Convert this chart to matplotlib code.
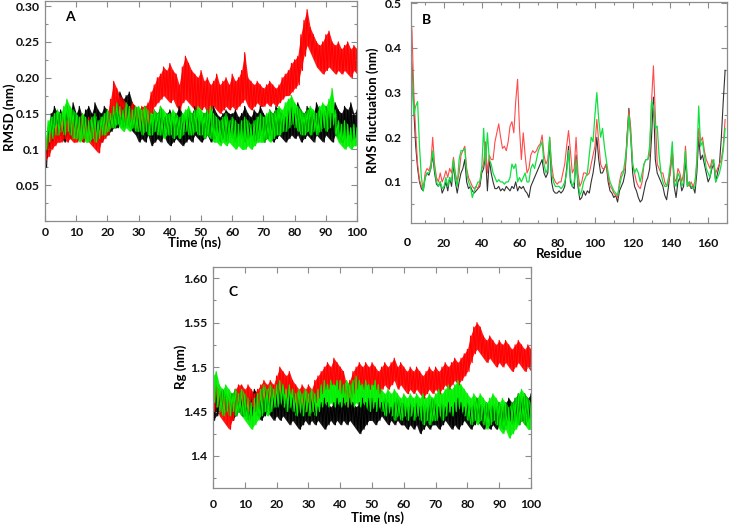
import numpy as np
import matplotlib
matplotlib.use("Agg")
import matplotlib.pyplot as plt
from matplotlib.ticker import FixedLocator, FixedFormatter, MultipleLocator

plt.rcParams['font.family'] = ['Lato', 'DejaVu Sans']
plt.rcParams['font.weight'] = 'bold'

# ---------------- Panel A : RMSD (nm), peak / trough per ns ----------------
rmsd_black_hi = [0.08, 0.13, 0.15, 0.16, 0.15, 0.155, 0.14, 0.16, 0.15, 0.165,
                 0.15, 0.16, 0.145, 0.155, 0.16, 0.15, 0.165, 0.155, 0.15, 0.16,
                 0.155, 0.15, 0.16, 0.165, 0.18, 0.17, 0.175, 0.18, 0.165, 0.16,
                 0.155, 0.15, 0.16, 0.15, 0.145, 0.155, 0.15, 0.16, 0.145, 0.15,
                 0.155, 0.145, 0.15, 0.16, 0.15, 0.145, 0.155, 0.15, 0.16, 0.15,
                 0.145, 0.15, 0.155, 0.145, 0.16, 0.15, 0.145, 0.15, 0.155, 0.15,
                 0.15, 0.155, 0.145, 0.15, 0.16, 0.15, 0.145, 0.155, 0.15, 0.16,
                 0.15, 0.145, 0.155, 0.15, 0.16, 0.155, 0.15, 0.145, 0.155, 0.16,
                 0.15, 0.165, 0.155, 0.15, 0.16, 0.155, 0.15, 0.165, 0.155, 0.15,
                 0.16, 0.155, 0.15, 0.165, 0.155, 0.15, 0.16, 0.155, 0.165, 0.15,
                 0.155]
rmsd_black_lo = [0.075, 0.10, 0.11, 0.12, 0.115, 0.12, 0.11, 0.12, 0.115, 0.12,
                 0.115, 0.12, 0.11, 0.12, 0.115, 0.11, 0.12, 0.115, 0.11, 0.12,
                 0.12, 0.125, 0.13, 0.13, 0.135, 0.13, 0.135, 0.13, 0.125, 0.12,
                 0.11, 0.115, 0.11, 0.12, 0.105, 0.11, 0.115, 0.11, 0.12, 0.11,
                 0.105, 0.11, 0.115, 0.11, 0.105, 0.11, 0.115, 0.11, 0.12, 0.115,
                 0.11, 0.115, 0.12, 0.11, 0.115, 0.12, 0.11, 0.115, 0.11, 0.12,
                 0.115, 0.11, 0.12, 0.115, 0.11, 0.115, 0.12, 0.11, 0.115, 0.12,
                 0.11, 0.115, 0.12, 0.11, 0.115, 0.12, 0.115, 0.11, 0.115, 0.12,
                 0.115, 0.12, 0.11, 0.115, 0.12, 0.115, 0.11, 0.12, 0.115, 0.11,
                 0.12, 0.115, 0.11, 0.12, 0.115, 0.11, 0.115, 0.12, 0.11, 0.115,
                 0.12]
rmsd_red_hi = [0.10, 0.12, 0.125, 0.13, 0.135, 0.14, 0.145, 0.14, 0.15, 0.145,
               0.14, 0.145, 0.15, 0.14, 0.145, 0.14, 0.135, 0.13, 0.14, 0.145,
               0.15, 0.17, 0.195, 0.185, 0.175, 0.17, 0.165, 0.16, 0.165, 0.16,
               0.155, 0.16, 0.16, 0.165, 0.18, 0.19, 0.20, 0.205, 0.215, 0.21,
               0.22, 0.21, 0.205, 0.19, 0.215, 0.23, 0.22, 0.21, 0.205, 0.20,
               0.21, 0.195, 0.20, 0.19, 0.195, 0.205, 0.19, 0.195, 0.20, 0.19,
               0.205, 0.195, 0.20, 0.21, 0.235, 0.20, 0.195, 0.19, 0.195, 0.19,
               0.185, 0.19, 0.195, 0.19, 0.185, 0.19, 0.20, 0.205, 0.21, 0.22,
               0.225, 0.23, 0.26, 0.28, 0.295, 0.27, 0.26, 0.25, 0.245, 0.25,
               0.26, 0.265, 0.25, 0.245, 0.25, 0.24, 0.245, 0.25, 0.24, 0.245,
               0.24]
rmsd_red_lo = [0.085, 0.09, 0.10, 0.105, 0.11, 0.11, 0.115, 0.11, 0.115, 0.11,
               0.11, 0.115, 0.11, 0.115, 0.11, 0.105, 0.10, 0.095, 0.11, 0.115,
               0.12, 0.13, 0.15, 0.15, 0.145, 0.14, 0.135, 0.14, 0.135, 0.13,
               0.13, 0.125, 0.13, 0.135, 0.15, 0.16, 0.165, 0.17, 0.175, 0.17,
               0.165, 0.17, 0.16, 0.155, 0.165, 0.17, 0.165, 0.16, 0.155, 0.16,
               0.155, 0.16, 0.15, 0.155, 0.16, 0.155, 0.15, 0.155, 0.16, 0.155,
               0.16, 0.155, 0.16, 0.165, 0.17, 0.16, 0.155, 0.16, 0.165, 0.16,
               0.16, 0.165, 0.16, 0.165, 0.16, 0.165, 0.17, 0.175, 0.175, 0.18,
               0.185, 0.19, 0.21, 0.23, 0.245, 0.235, 0.225, 0.215, 0.21, 0.205,
               0.21, 0.215, 0.21, 0.205, 0.21, 0.205, 0.21, 0.205, 0.20, 0.21,
               0.205]
rmsd_green_hi = [0.11, 0.14, 0.145, 0.15, 0.155, 0.15, 0.16, 0.17, 0.16, 0.155,
                 0.15, 0.145, 0.15, 0.145, 0.14, 0.145, 0.15, 0.14, 0.145, 0.15,
                 0.155, 0.15, 0.16, 0.165, 0.16, 0.155, 0.165, 0.16, 0.155, 0.16,
                 0.16, 0.155, 0.16, 0.155, 0.15, 0.155, 0.15, 0.16, 0.155, 0.15,
                 0.15, 0.155, 0.15, 0.145, 0.15, 0.155, 0.16, 0.15, 0.155, 0.16,
                 0.155, 0.15, 0.155, 0.16, 0.15, 0.145, 0.14, 0.145, 0.15, 0.14,
                 0.145, 0.14, 0.135, 0.14, 0.145, 0.14, 0.135, 0.14, 0.145, 0.15,
                 0.145, 0.15, 0.155, 0.15, 0.155, 0.16, 0.155, 0.165, 0.17, 0.175,
                 0.165, 0.16, 0.155, 0.15, 0.155, 0.16, 0.155, 0.15, 0.16, 0.165,
                 0.16, 0.17, 0.185, 0.155, 0.14, 0.135, 0.14, 0.135, 0.13, 0.135,
                 0.13]
rmsd_green_lo = [0.10, 0.11, 0.115, 0.12, 0.12, 0.125, 0.12, 0.125, 0.12, 0.115,
                 0.115, 0.11, 0.115, 0.11, 0.11, 0.115, 0.11, 0.115, 0.12, 0.12,
                 0.125, 0.13, 0.13, 0.135, 0.13, 0.125, 0.13, 0.125, 0.13, 0.125,
                 0.125, 0.12, 0.125, 0.12, 0.12, 0.125, 0.12, 0.12, 0.115, 0.12,
                 0.12, 0.115, 0.12, 0.115, 0.12, 0.125, 0.12, 0.12, 0.125, 0.12,
                 0.12, 0.115, 0.12, 0.115, 0.11, 0.11, 0.105, 0.11, 0.105, 0.11,
                 0.105, 0.10, 0.105, 0.10, 0.10, 0.105, 0.10, 0.105, 0.11, 0.11,
                 0.11, 0.115, 0.11, 0.115, 0.12, 0.12, 0.125, 0.125, 0.13, 0.135,
                 0.13, 0.125, 0.12, 0.12, 0.125, 0.12, 0.125, 0.12, 0.125, 0.13,
                 0.125, 0.13, 0.135, 0.12, 0.11, 0.105, 0.10, 0.105, 0.10, 0.105,
                 0.105]

# ---------------- Panel B : RMSF (nm), residues 2..169 ----------------
residues = list(range(2, 170))
rmsf_black = [0.42, 0.36, 0.26, 0.18, 0.13, 0.10, 0.085, 0.08, 0.11, 0.12,
              0.115, 0.13, 0.16, 0.12, 0.095, 0.09, 0.10, 0.075, 0.085, 0.10,
              0.08, 0.11, 0.09, 0.14, 0.10, 0.075, 0.10, 0.12, 0.13, 0.15,
              0.10, 0.085, 0.09, 0.08, 0.075, 0.08, 0.085, 0.09, 0.12, 0.13,
              0.16, 0.08, 0.15, 0.12, 0.10, 0.085, 0.085, 0.09, 0.08, 0.085,
              0.08, 0.09, 0.085, 0.08, 0.09, 0.085, 0.10, 0.08, 0.09, 0.085,
              0.09, 0.08, 0.075, 0.065, 0.09, 0.10, 0.11, 0.12, 0.13, 0.14,
              0.15, 0.12, 0.11, 0.12, 0.19, 0.10, 0.08, 0.075, 0.075, 0.08,
              0.075, 0.08, 0.09, 0.13, 0.18, 0.10, 0.09, 0.085, 0.16, 0.09,
              0.06, 0.065, 0.08, 0.07, 0.08, 0.075, 0.10, 0.12, 0.15, 0.20,
              0.15, 0.12, 0.12, 0.13, 0.14, 0.10, 0.08, 0.075, 0.065, 0.07,
              0.055, 0.08, 0.09, 0.10, 0.12, 0.20, 0.265, 0.20, 0.12, 0.09,
              0.08, 0.065, 0.055, 0.06, 0.08, 0.10, 0.11, 0.13, 0.20, 0.29,
              0.15, 0.12, 0.11, 0.10, 0.09, 0.07, 0.06, 0.09, 0.13, 0.17,
              0.09, 0.065, 0.10, 0.11, 0.08, 0.09, 0.15, 0.09, 0.10, 0.085,
              0.09, 0.075, 0.12, 0.20, 0.15, 0.16, 0.14, 0.12, 0.10, 0.11,
              0.13, 0.14, 0.10, 0.12, 0.14, 0.20, 0.28, 0.35]
rmsf_red = [0.48, 0.44, 0.30, 0.21, 0.14, 0.105, 0.09, 0.085, 0.12, 0.13,
            0.125, 0.14, 0.20, 0.14, 0.11, 0.10, 0.12, 0.10, 0.11, 0.125,
            0.11, 0.13, 0.12, 0.155, 0.12, 0.10, 0.12, 0.16, 0.17, 0.18,
            0.13, 0.11, 0.10, 0.09, 0.085, 0.09, 0.085, 0.10, 0.13, 0.14,
            0.19, 0.12, 0.16, 0.15, 0.15, 0.19, 0.21, 0.23, 0.20, 0.175,
            0.18, 0.17, 0.19, 0.225, 0.235, 0.21, 0.28, 0.33, 0.22, 0.15,
            0.21, 0.16, 0.12, 0.13, 0.16, 0.17, 0.165, 0.17, 0.18, 0.185,
            0.205, 0.16, 0.14, 0.15, 0.20, 0.14, 0.11, 0.10, 0.095, 0.10,
            0.10, 0.12, 0.14, 0.18, 0.215, 0.17, 0.12, 0.13, 0.20, 0.12,
            0.09, 0.10, 0.12, 0.12, 0.115, 0.12, 0.14, 0.16, 0.18, 0.24,
            0.19, 0.14, 0.13, 0.13, 0.14, 0.11, 0.09, 0.085, 0.075, 0.07,
            0.065, 0.10, 0.12, 0.125, 0.13, 0.20, 0.26, 0.22, 0.14, 0.12,
            0.10, 0.09, 0.085, 0.10, 0.14, 0.15, 0.15, 0.16, 0.28, 0.36,
            0.25, 0.14, 0.13, 0.12, 0.12, 0.10, 0.09, 0.10, 0.12, 0.17,
            0.11, 0.10, 0.13, 0.12, 0.10, 0.12, 0.18, 0.10, 0.09, 0.10,
            0.09, 0.10, 0.14, 0.22, 0.19, 0.20, 0.17, 0.15, 0.14, 0.13,
            0.15, 0.14, 0.12, 0.13, 0.14, 0.15, 0.18, 0.24]
rmsf_green = [0.40, 0.34, 0.25, 0.27, 0.28, 0.18, 0.11, 0.08, 0.11, 0.12,
              0.12, 0.13, 0.17, 0.13, 0.10, 0.09, 0.10, 0.085, 0.09, 0.11,
              0.09, 0.11, 0.10, 0.15, 0.11, 0.09, 0.15, 0.17, 0.17, 0.175,
              0.12, 0.10, 0.09, 0.065, 0.08, 0.09, 0.10, 0.10, 0.13, 0.22,
              0.14, 0.21, 0.15, 0.14, 0.12, 0.11, 0.10, 0.105, 0.10, 0.10,
              0.095, 0.10, 0.10, 0.11, 0.14, 0.13, 0.14, 0.10, 0.11, 0.10,
              0.11, 0.12, 0.10, 0.10, 0.13, 0.14, 0.13, 0.15, 0.17, 0.18,
              0.19, 0.14, 0.12, 0.13, 0.20, 0.12, 0.10, 0.09, 0.09, 0.09,
              0.085, 0.09, 0.10, 0.12, 0.17, 0.11, 0.09, 0.10, 0.15, 0.10,
              0.07, 0.08, 0.10, 0.11, 0.12, 0.16, 0.20, 0.19, 0.25, 0.30,
              0.24, 0.20, 0.22, 0.18, 0.15, 0.12, 0.10, 0.09, 0.08, 0.075,
              0.07, 0.09, 0.11, 0.12, 0.15, 0.18, 0.25, 0.20, 0.14, 0.12,
              0.13, 0.12, 0.10, 0.12, 0.14, 0.15, 0.15, 0.18, 0.28, 0.27,
              0.22, 0.225, 0.16, 0.12, 0.10, 0.09, 0.09, 0.11, 0.14, 0.19,
              0.10, 0.09, 0.12, 0.11, 0.09, 0.10, 0.17, 0.09, 0.10, 0.09,
              0.085, 0.09, 0.15, 0.27, 0.18, 0.19, 0.16, 0.13, 0.12, 0.11,
              0.14, 0.15, 0.10, 0.11, 0.12, 0.14, 0.17, 0.22]

# ---------------- Panel C : Rg (nm), peak / trough per ns ----------------
rg_black_hi = [1.48, 1.475, 1.47, 1.475, 1.47, 1.465, 1.47, 1.475, 1.47, 1.465,
               1.47, 1.465, 1.47, 1.475, 1.47, 1.465, 1.47, 1.475, 1.47, 1.465,
               1.47, 1.475, 1.47, 1.465, 1.47, 1.465, 1.46, 1.465, 1.46, 1.465,
               1.46, 1.465, 1.46, 1.455, 1.46, 1.465, 1.46, 1.455, 1.46, 1.465,
               1.46, 1.465, 1.46, 1.465, 1.46, 1.455, 1.46, 1.465, 1.46, 1.465,
               1.465, 1.46, 1.465, 1.46, 1.465, 1.46, 1.455, 1.46, 1.465, 1.46,
               1.46, 1.455, 1.46, 1.455, 1.46, 1.455, 1.46, 1.455, 1.46, 1.465,
               1.46, 1.455, 1.46, 1.455, 1.46, 1.455, 1.46, 1.465, 1.46, 1.455,
               1.46, 1.455, 1.46, 1.465, 1.46, 1.455, 1.46, 1.455, 1.46, 1.455,
               1.46, 1.455, 1.46, 1.465, 1.46, 1.465, 1.47, 1.465, 1.47, 1.465,
               1.47]
rg_black_lo = [1.44, 1.445, 1.45, 1.445, 1.45, 1.445, 1.44, 1.445, 1.45, 1.445,
               1.445, 1.44, 1.445, 1.45, 1.445, 1.44, 1.445, 1.45, 1.445, 1.44,
               1.445, 1.44, 1.445, 1.44, 1.435, 1.44, 1.435, 1.43, 1.435, 1.44,
               1.435, 1.44, 1.435, 1.44, 1.435, 1.43, 1.435, 1.44, 1.435, 1.44,
               1.435, 1.44, 1.435, 1.44, 1.435, 1.43, 1.425, 1.43, 1.435, 1.44,
               1.44, 1.435, 1.44, 1.445, 1.44, 1.435, 1.44, 1.435, 1.44, 1.435,
               1.435, 1.43, 1.435, 1.43, 1.435, 1.425, 1.43, 1.435, 1.43, 1.435,
               1.435, 1.43, 1.435, 1.44, 1.435, 1.43, 1.435, 1.43, 1.435, 1.44,
               1.435, 1.43, 1.435, 1.44, 1.435, 1.43, 1.435, 1.43, 1.435, 1.43,
               1.435, 1.43, 1.435, 1.44, 1.435, 1.44, 1.435, 1.44, 1.435, 1.44,
               1.445]
rg_red_hi = [1.475, 1.48, 1.475, 1.47, 1.465, 1.47, 1.465, 1.475, 1.48, 1.48,
             1.475, 1.48, 1.475, 1.47, 1.475, 1.48, 1.485, 1.48, 1.485, 1.48,
             1.49, 1.50, 1.495, 1.49, 1.495, 1.485, 1.48, 1.475, 1.48, 1.475,
             1.48, 1.475, 1.485, 1.49, 1.495, 1.50, 1.505, 1.50, 1.51, 1.505,
             1.50, 1.495, 1.48, 1.485, 1.495, 1.50, 1.505, 1.50, 1.505, 1.50,
             1.505, 1.50, 1.495, 1.50, 1.505, 1.50, 1.505, 1.51, 1.50, 1.505,
             1.50, 1.495, 1.50, 1.495, 1.50, 1.495, 1.49, 1.495, 1.50, 1.495,
             1.50, 1.495, 1.50, 1.505, 1.50, 1.505, 1.51, 1.505, 1.51, 1.515,
             1.52, 1.535, 1.545, 1.55, 1.545, 1.535, 1.53, 1.535, 1.53, 1.525,
             1.53, 1.525, 1.53, 1.525, 1.52, 1.525, 1.53, 1.525, 1.52, 1.525,
             1.52]
rg_red_lo = [1.45, 1.455, 1.445, 1.44, 1.435, 1.43, 1.44, 1.45, 1.455, 1.455,
             1.455, 1.45, 1.455, 1.45, 1.455, 1.46, 1.465, 1.46, 1.465, 1.46,
             1.465, 1.47, 1.47, 1.465, 1.47, 1.46, 1.455, 1.45, 1.455, 1.45,
             1.455, 1.45, 1.46, 1.465, 1.47, 1.475, 1.475, 1.48, 1.48, 1.475,
             1.47, 1.465, 1.455, 1.46, 1.47, 1.475, 1.48, 1.475, 1.48, 1.475,
             1.48, 1.475, 1.47, 1.475, 1.48, 1.475, 1.48, 1.485, 1.475, 1.48,
             1.475, 1.47, 1.475, 1.47, 1.475, 1.47, 1.465, 1.47, 1.475, 1.47,
             1.475, 1.47, 1.475, 1.48, 1.475, 1.48, 1.485, 1.48, 1.485, 1.49,
             1.495, 1.505, 1.515, 1.52, 1.515, 1.51, 1.505, 1.51, 1.505, 1.50,
             1.505, 1.50, 1.505, 1.50, 1.495, 1.50, 1.505, 1.50, 1.495, 1.50,
             1.495]
rg_green_hi = [1.49, 1.495, 1.48, 1.475, 1.48, 1.475, 1.47, 1.475, 1.47, 1.475,
               1.47, 1.465, 1.46, 1.465, 1.47, 1.475, 1.48, 1.475, 1.48, 1.475,
               1.48, 1.485, 1.48, 1.475, 1.48, 1.475, 1.47, 1.475, 1.47, 1.475,
               1.47, 1.475, 1.47, 1.475, 1.48, 1.485, 1.48, 1.485, 1.48, 1.485,
               1.485, 1.48, 1.485, 1.48, 1.485, 1.49, 1.485, 1.48, 1.485, 1.48,
               1.48, 1.485, 1.48, 1.475, 1.47, 1.475, 1.47, 1.475, 1.47, 1.465,
               1.47, 1.465, 1.47, 1.465, 1.47, 1.465, 1.47, 1.465, 1.47, 1.465,
               1.47, 1.475, 1.47, 1.475, 1.48, 1.475, 1.48, 1.485, 1.48, 1.475,
               1.47, 1.465, 1.47, 1.465, 1.47, 1.465, 1.46, 1.465, 1.47, 1.465,
               1.46, 1.465, 1.46, 1.455, 1.46, 1.465, 1.47, 1.475, 1.47, 1.465,
               1.46]
rg_green_lo = [1.46, 1.455, 1.45, 1.445, 1.45, 1.445, 1.45, 1.445, 1.45, 1.445,
               1.44, 1.435, 1.43, 1.435, 1.44, 1.445, 1.45, 1.445, 1.45, 1.455,
               1.455, 1.46, 1.455, 1.45, 1.455, 1.45, 1.445, 1.45, 1.445, 1.45,
               1.445, 1.45, 1.445, 1.45, 1.455, 1.46, 1.455, 1.46, 1.455, 1.46,
               1.455, 1.46, 1.455, 1.46, 1.455, 1.46, 1.455, 1.46, 1.455, 1.45,
               1.455, 1.45, 1.455, 1.45, 1.445, 1.45, 1.445, 1.44, 1.445, 1.44,
               1.445, 1.44, 1.445, 1.44, 1.445, 1.44, 1.435, 1.44, 1.435, 1.44,
               1.44, 1.445, 1.44, 1.445, 1.45, 1.445, 1.45, 1.455, 1.45, 1.445,
               1.44, 1.435, 1.44, 1.435, 1.44, 1.435, 1.43, 1.435, 1.44, 1.435,
               1.43, 1.425, 1.43, 1.42, 1.425, 1.43, 1.435, 1.44, 1.435, 1.43,
               1.43]

RED = '#ff0000'
GREEN = '#00f000'
BLACK = '#000000'
SPINE = '#8c8c8c'

W, H = 733, 529


def rect(l, t, r, b):
    return [l / W, 1 - b / H, (r - l) / W, (b - t) / H]


def draw_trace(ax, hi, lo, color):
    t = np.arange(len(hi), dtype=float)
    # band between troughs and peaks, then the spiky trace over it
    ax.fill_between(t, lo, hi, color=color, lw=0, alpha=0.9)
    x = np.column_stack([t, t + 0.5]).ravel()
    y = np.column_stack([hi, lo]).ravel()
    ax.plot(x, y, color=color, lw=0.8)


def style(ax, xpad, ypad):
    for s in ax.spines.values():
        s.set_color(SPINE)
        s.set_linewidth(0.9)
    ax.tick_params(which='both', direction='in', top=True, right=True,
                   colors=SPINE, labelcolor='#111111', labelsize=8.8, width=0.8)
    ax.tick_params(which='major', length=4)
    ax.tick_params(which='minor', length=2.5)
    ax.tick_params(axis='x', which='both', pad=xpad)
    ax.tick_params(axis='y', which='both', pad=ypad)
    for lab in ax.get_xticklabels() + ax.get_yticklabels():
        lab.set_fontweight('bold')


fig = plt.figure(figsize=(W / 100, H / 100), dpi=100)

# ---- A ----
axA = fig.add_axes(rect(45, 1, 357, 221))
draw_trace(axA, rmsd_black_hi, rmsd_black_lo, BLACK)
draw_trace(axA, rmsd_red_hi, rmsd_red_lo, RED)
draw_trace(axA, rmsd_green_hi, rmsd_green_lo, GREEN)
axA.set_xlim(0, 100)
axA.set_ylim(0, 0.307)
axA.xaxis.set_major_locator(FixedLocator(range(0, 101, 10)))
axA.xaxis.set_major_formatter(FixedFormatter([str(v) for v in range(0, 101, 10)]))
axA.yaxis.set_major_locator(FixedLocator([0.05, 0.1, 0.15, 0.2, 0.25, 0.3]))
axA.yaxis.set_major_formatter(FixedFormatter(['0.05', '0.1', '0.15', '0.20', '0.25', '0.30']))
axA.yaxis.set_minor_locator(MultipleLocator(0.025))
style(axA, 4.5, 4)
axA.text(0.065, 0.91, 'A', transform=axA.transAxes, fontsize=10, fontweight='bold')

# ---- B ----
axB = fig.add_axes(rect(411, 2, 727, 223))
axB.plot(residues, rmsf_black, color='#333333', lw=0.8)
axB.plot(residues, rmsf_red, color='#ff4a4a', lw=0.8)
axB.plot(residues, rmsf_green, color='#10e040', lw=0.9)
axB.set_xlim(2.5, 170)
axB.set_ylim(0.008, 0.503)
axB.xaxis.set_major_locator(FixedLocator(range(20, 161, 20)))
axB.xaxis.set_minor_locator(MultipleLocator(10))
axB.yaxis.set_major_locator(FixedLocator([0.1, 0.2, 0.3, 0.4, 0.5]))
axB.yaxis.set_major_formatter(FixedFormatter(['0.1', '0.2', '0.3', '0.4', '0.5']))
axB.yaxis.set_minor_locator(MultipleLocator(0.05))
style(axB, 11, 7)
axB.text(0.035, 0.9, 'B', transform=axB.transAxes, fontsize=10, fontweight='bold')

# ---- C ----
axC = fig.add_axes(rect(213, 267, 531, 488))
draw_trace(axC, rg_black_hi, rg_black_lo, BLACK)
draw_trace(axC, rg_red_hi, rg_red_lo, RED)
draw_trace(axC, rg_green_hi, rg_green_lo, GREEN)
axC.set_xlim(0, 100)
axC.set_ylim(1.364, 1.6125)
axC.xaxis.set_major_locator(FixedLocator(range(0, 101, 10)))
axC.xaxis.set_major_formatter(FixedFormatter([str(v) for v in range(0, 101, 10)]))
axC.yaxis.set_major_locator(FixedLocator([1.4, 1.45, 1.5, 1.55, 1.6]))
axC.yaxis.set_major_formatter(FixedFormatter(['1.4', '1.45', '1.5', '1.55', '1.60']))
axC.yaxis.set_minor_locator(MultipleLocator(0.025))
style(axC, 8, 4)
axC.text(0.05, 0.87, 'C', transform=axC.transAxes, fontsize=10, fontweight='bold')


def ftext(x, y, s, **kw):
    fig.text(x / W, 1 - y / H, s, ha='center', va='center', fontweight='bold', **kw)


# residue axis "0" label sits left of the B frame
ftext(407, 243, '0', fontsize=8.8)

ftext(195, 243, 'Time (ns)', fontsize=9.5)
ftext(10, 117, 'RMSD (nm)', fontsize=9.5, rotation=90)
ftext(559, 254, 'Residue', fontsize=9.5)
ftext(373, 110, 'RMS fluctuation (nm)', fontsize=9.5, rotation=90)
ftext(377, 518, 'Time (ns)', fontsize=9.5)
ftext(181, 367, 'Rg (nm)', fontsize=9.5, rotation=90)

fig.savefig('out.png', dpi=100)
